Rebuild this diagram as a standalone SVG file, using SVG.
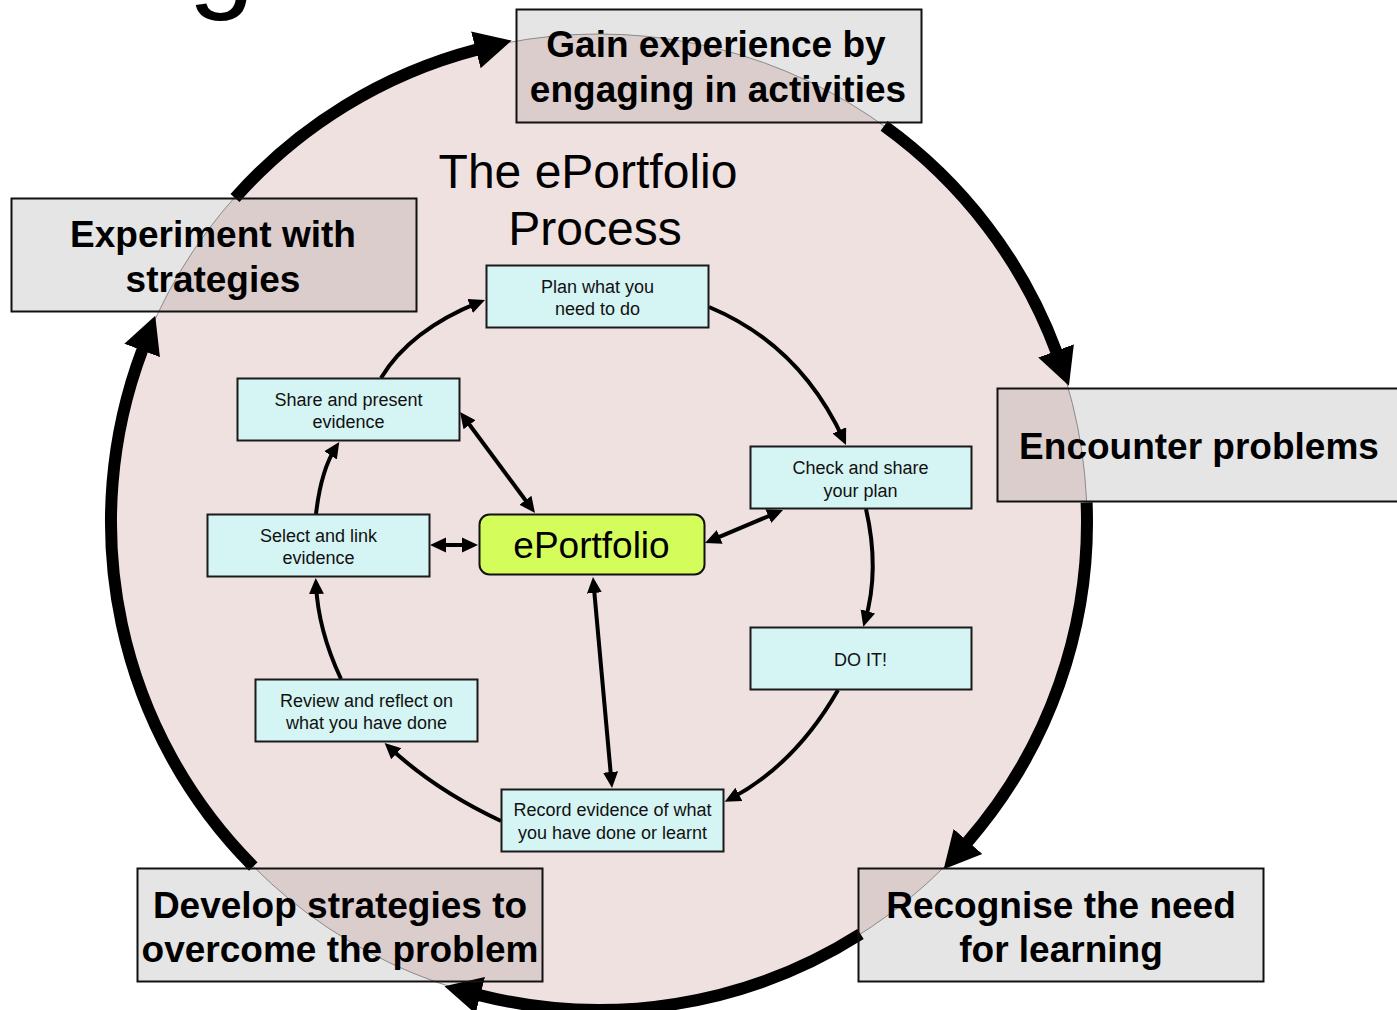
<svg xmlns="http://www.w3.org/2000/svg" width="1397" height="1010" viewBox="0 0 1397 1010">
<style>
.obox{fill:#e5e5e5;stroke:none}
.oline{fill:none;stroke:#111;stroke-width:2}
.otxt{font-family:"Liberation Sans",Arial,sans-serif;font-weight:bold;font-size:37px;fill:#000;text-anchor:middle}
.ibox{fill:#d5f5f4;stroke:#1a1a1a;stroke-width:2}
.itxt{font-family:"Liberation Sans",Arial,sans-serif;font-size:18px;fill:#111;text-anchor:middle}
.title{font-family:"Liberation Sans",Arial,sans-serif;font-size:48px;fill:#000;text-anchor:middle}
.thick{fill:none;stroke:#000;stroke-width:12;marker-end:url(#bigArrow)}
.thin{fill:none;stroke:#000;stroke-width:4;marker-end:url(#smallArrow)}
.both{fill:none;stroke:#000;stroke-width:4;marker-end:url(#smallArrow);marker-start:url(#smallArrow)}
</style>
<defs>
<marker id="bigArrow" markerUnits="userSpaceOnUse" markerWidth="40" markerHeight="40" viewBox="0 -20 40 40" refX="1" refY="0" orient="auto">
<path d="M0,-19 L37,0 L0,19 z" fill="#000"/>
</marker>
<marker id="smallArrow" markerUnits="userSpaceOnUse" markerWidth="18" markerHeight="18" viewBox="0 -9 18 18" refX="10" refY="0" orient="auto-start-reverse">
<path d="M0,-7.5 L16,0 L0,7.5 z" fill="#000"/>
</marker>
</defs>
<rect width="1397" height="1010" fill="#fff"/>
<text x="188" y="-4" font-family="Liberation Sans, Arial, sans-serif" font-size="120" fill="#000">g</text>

<!-- outer box fills -->
<g id="fills">
<rect class="obox" x="516.5" y="9.5" width="405" height="113"/>
<rect class="obox" x="11.5" y="198.5" width="405" height="113"/>
<rect class="obox" x="997.5" y="388.5" width="420" height="113"/>
<rect class="obox" x="858.5" y="868.5" width="405" height="113"/>
<rect class="obox" x="137.5" y="868.5" width="405" height="113"/>
</g>

<!-- big cycle circle -->
<circle cx="599" cy="522" r="488" fill="rgb(195,135,135)" fill-opacity="0.25" stroke="#8a8a8a" stroke-width="1"/>

<g id="connectors">
<path class="thick" d="M235,198 A488,488 0 0 1 476.8,49.6"/>
<path class="thick" d="M884.1,125.9 A488,488 0 0 1 1056.4,351.9"/>
<path class="thick" d="M1086.6,502.4 A488,488 0 0 1 967.3,842.2"/>
<path class="thick" d="M860.5,934 A488,488 0 0 1 479.3,995.1"/>
<path class="thick" d="M253.3,866.5 A488,488 0 0 1 142.5,349.5"/>

<path class="thin" d="M381,378 Q410,330 479.4,302.2"/>
<path class="thin" d="M709,307 Q800,345 843.5,439.5"/>
<path class="thin" d="M866,509 Q880,570 865,621"/>
<path class="thin" d="M838,690 Q795,765 730,799"/>
<path class="thin" d="M501,821 Q435,790 389,747"/>
<path class="thin" d="M341,679 Q318,630 316,584"/>
<path class="thin" d="M316,514 Q321,470 336,447"/>

<path class="both" d="M463.6,416.8 L531.4,508.2"/>
<path class="both" d="M436,545 L472,545"/>
<path class="both" d="M710.5,540.7 L777.5,512.3"/>
<path class="both" d="M593.5,583 L611.5,782"/>
</g>

<g id="gain">
<rect class="oline" x="516.5" y="9.5" width="405" height="113"/>
<text class="otxt" x="716" y="57">Gain experience by</text>
<text class="otxt" x="718" y="102">engaging in activities</text>
</g>
<g id="experiment">
<rect class="oline" x="11.5" y="198.5" width="405" height="113"/>
<text class="otxt" x="213" y="247">Experiment with</text>
<text class="otxt" x="213" y="292">strategies</text>
</g>
<g id="encounter">
<rect class="oline" x="997.5" y="388.5" width="420" height="113"/>
<text class="otxt" x="1199" y="459">Encounter problems</text>
</g>
<g id="recognise">
<rect class="oline" x="858.5" y="868.5" width="405" height="113"/>
<text class="otxt" x="1061" y="918">Recognise the need</text>
<text class="otxt" x="1061" y="962">for learning</text>
</g>
<g id="develop">
<rect class="oline" x="137.5" y="868.5" width="405" height="113"/>
<text class="otxt" x="340" y="918">Develop strategies to</text>
<text class="otxt" x="340" y="962">overcome the problem</text>
</g>

<g id="title">
<text class="title" x="588" y="188">The ePortfolio</text>
<text class="title" x="595" y="245">Process</text>
</g>

<g id="plan">
<rect class="ibox" x="486.5" y="265.5" width="222" height="62"/>
<text class="itxt" x="597.5" y="293">Plan what you</text>
<text class="itxt" x="597.5" y="315">need to do</text>
</g>
<g id="check">
<rect class="ibox" x="750.5" y="446.5" width="221" height="62"/>
<text class="itxt" x="860.5" y="474">Check and share</text>
<text class="itxt" x="860.5" y="497">your plan</text>
</g>
<g id="doit">
<rect class="ibox" x="750.5" y="627.5" width="221" height="62"/>
<text class="itxt" x="860.5" y="666">DO IT!</text>
</g>
<g id="record">
<rect class="ibox" x="501.5" y="789.5" width="222" height="62"/>
<text class="itxt" x="612.5" y="816">Record evidence of what</text>
<text class="itxt" x="612.5" y="839">you have done or learnt</text>
</g>
<g id="review">
<rect class="ibox" x="255.5" y="679.5" width="222" height="62"/>
<text class="itxt" x="366.5" y="707">Review and reflect on</text>
<text class="itxt" x="366.5" y="729">what you have done</text>
</g>
<g id="select">
<rect class="ibox" x="207.5" y="514.5" width="222" height="62"/>
<text class="itxt" x="318.5" y="542">Select and link</text>
<text class="itxt" x="318.5" y="564">evidence</text>
</g>
<g id="share">
<rect class="ibox" x="237.5" y="378.5" width="222" height="62"/>
<text class="itxt" x="348.5" y="406">Share and present</text>
<text class="itxt" x="348.5" y="428">evidence</text>
</g>
<g id="eportfolio">
<rect x="479.5" y="514.5" width="225" height="60" rx="10" fill="#d4fd5c" stroke="#111" stroke-width="2"/>
<text x="591.5" y="558" font-family="Liberation Sans, Arial, sans-serif" font-size="37" fill="#000" text-anchor="middle">ePortfolio</text>
</g>
</svg>
